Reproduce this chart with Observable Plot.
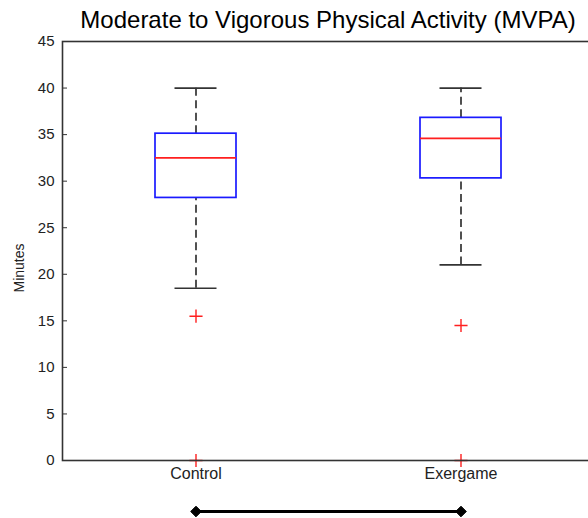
<!DOCTYPE html>
<html>
<head>
<meta charset="utf-8">
<script src="https://cdn.jsdelivr.net/npm/d3@7"></script>
<script src="https://cdn.jsdelivr.net/npm/@observablehq/plot@0.6"></script>
<style>
  body { margin: 0; background: #fff; }
  #chart svg { overflow: visible; }
</style>
</head>
<body>
<div id="chart"></div>
<script>
// Box-plot summaries of MVPA minutes per group
const groups = ["Control", "Exergame"];
const whiskerLow = [18.5, 21.0];
const quartile1 = [28.2, 30.3];
const medians = [32.5, 34.6];
const quartile3 = [35.1, 36.8];
const whiskerHigh = [40.0, 40.0];

// Points beyond the whiskers
const outlierGroups = ["Control", "Control", "Exergame", "Exergame"];
const outlierValues = [15.5, 0, 14.5, 0];

const yTicks = [0, 5, 10, 15, 20, 25, 30, 35, 40, 45];
const title = "Moderate to Vigorous Physical Activity (MVPA)";
const yLabel = "Minutes";

const stats = groups.map((g, i) => ({
  group: g, lo: whiskerLow[i], q1: quartile1[i], median: medians[i], q3: quartile3[i], hi: whiskerHigh[i]
}));
const outliers = outlierGroups.map((g, i) => ({group: g, value: outlierValues[i]}));

const ink = "#333333";
const whisker = {stroke: ink, strokeWidth: 1.7};

const chart = Plot.plot({
  width: 588,
  height: 518,
  marginLeft: 62,
  marginRight: -5,
  marginTop: 41,
  marginBottom: 58,
  style: {fontFamily: "'Liberation Sans', Arial, sans-serif", fontSize: "15px", color: "#222", background: "#fff"},
  x: {type: "band", domain: groups, paddingInner: 0.695, paddingOuter: 0.3475},
  y: {domain: [0, 45]},
  marks: [
    // dashed whiskers
    Plot.ruleX(stats, {x: "group", y1: "q3", y2: "hi", ...whisker, strokeDasharray: "8,4.5"}),
    Plot.ruleX(stats, {x: "group", y1: "lo", y2: "q1", ...whisker, strokeDasharray: "8,4.5"}),
    // whisker caps
    Plot.tickY(stats, {x: "group", y: "hi", insetLeft: 19.5, insetRight: 19.5, ...whisker}),
    Plot.tickY(stats, {x: "group", y: "lo", insetLeft: 19.5, insetRight: 19.5, ...whisker}),
    // interquartile box and median
    Plot.barY(stats, {x: "group", y1: "q1", y2: "q3", fill: "none", stroke: "#1a1aff", strokeWidth: 1.7}),
    Plot.tickY(stats, {x: "group", y: "median", stroke: "#ff1f1f", strokeWidth: 1.6}),
    // outliers
    Plot.dot(outliers, {x: "group", y: "value", symbol: "plus", stroke: "#ff1f1f", strokeWidth: 1.4, r: 4.3}),
    // axes box
    Plot.frame({stroke: ink, strokeWidth: 1.6}),
    Plot.axisY(yTicks, {tickSize: -5, tickPadding: 13, stroke: ink, fontSize: 15, fill: "#222", label: null}),
    Plot.text([yLabel], {frameAnchor: "left", textAnchor: "middle", lineAnchor: "middle", dx: -43, dy: 17, rotate: -90, fontSize: 14, fill: "#222"}),
    Plot.axisX({tickSize: 0, tickPadding: 7, fontSize: 16, fill: "#222", label: null}),
    // comparison bar between the two groups
    Plot.line(groups, {x: d => d, y: () => 0, dy: 51, stroke: "#000", strokeWidth: 3}),
    Plot.dot(groups, {x: d => d, y: () => 0, dy: 51, symbol: "diamond2", fill: "#000", stroke: "#000", strokeWidth: 1, r: 4.8}),
    // title
    Plot.text([title], {frameAnchor: "top", lineAnchor: "middle", dy: -21, fontSize: 24, fill: "#000"})
  ]
});

document.getElementById("chart").append(chart);
</script>
</body>
</html>
